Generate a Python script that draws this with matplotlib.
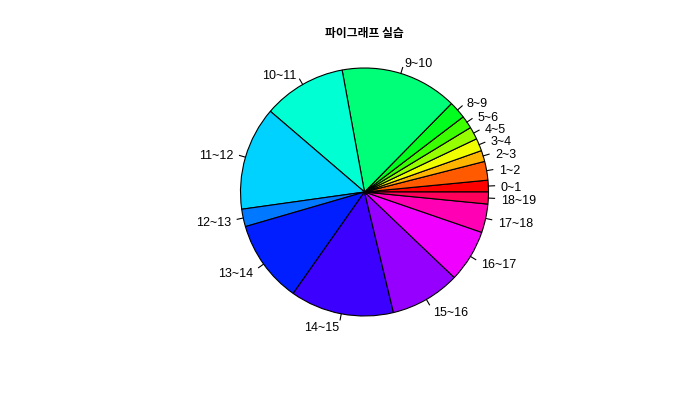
import numpy as np
import matplotlib
matplotlib.use("Agg")
import matplotlib.pyplot as plt
from matplotlib.colors import hsv_to_rgb

# slice labels (hour ranges) and sizes (in degrees)
labels = ["0~1", "1~2", "2~3", "3~4", "4~5", "5~6", "8~9", "9~10", "10~11",
          "11~12", "12~13", "13~14", "14~15", "15~16", "16~17", "17~18", "18~19"]
values = [5.5, 8.8, 5.2, 5.9, 5.9, 6.0, 8.2, 54.9, 39.0,
          48.6, 8.2, 38.7, 48.6, 32.9, 24.6, 13.4, 5.6]
title = "파이그래프 실습"

# R-style rainbow palette
n = len(values)
colors = [hsv_to_rgb((i / n, 1, 1)) for i in range(n)]

W, H = 700, 400
cx, cy, r = 364.5, 192, 124   # pie centre and radius in pixels

fig = plt.figure(figsize=(W / 100, H / 100), dpi=100)
ax = fig.add_axes([0, 0, 1, 1])

wedges, texts = ax.pie(values, labels=labels, colors=colors, startangle=0,
                       counterclock=True, labeldistance=1.1,
                       wedgeprops=dict(edgecolor="black", linewidth=0.8),
                       textprops=dict(fontsize=9, family="Liberation Sans"))

# R draws the label text a little lower than matplotlib does
for t in texts:
    x, y = t.get_position()
    t.set_position((x, y - 2.5 / r))

# short tick lines from the rim to the label
total = sum(values)
cum = np.cumsum([0] + values)
for i in range(n):
    mid = np.deg2rad((cum[i] + cum[i + 1]) / 2 / total * 360)
    ax.plot([np.cos(mid), 1.05 * np.cos(mid)], [np.sin(mid), 1.05 * np.sin(mid)],
            color="black", linewidth=0.8)

ax.set_xlim(-cx / r, (W - cx) / r)
ax.set_ylim(-(H - cy) / r, cy / r)
ax.set_aspect("auto")
ax.axis("off")

fig.text(cx / W, 1 - 33 / H, title, ha="center", va="center", fontsize=8.5,
         fontweight="bold", family=["Noto Sans CJK KR", "DejaVu Sans"])

fig.savefig("out.png", dpi=100)
